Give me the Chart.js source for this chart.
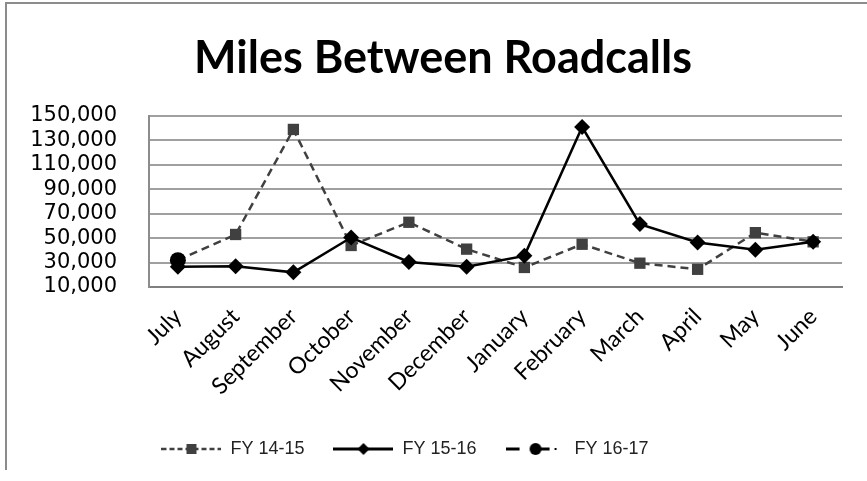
<!DOCTYPE html>
<html>
<head>
<meta charset="utf-8">
<script src="https://cdn.jsdelivr.net/npm/chart.js@4/dist/chart.umd.min.js"></script>
<style>
  html, body { margin: 0; padding: 0; background: #fff; }
  canvas { display: block; }
</style>
</head>
<body>
<canvas id="roadcalls" width="867" height="481"></canvas>
<script>
var months = ['July', 'August', 'September', 'October', 'November', 'December',
              'January', 'February', 'March', 'April', 'May', 'June'];
var fy1415 = [32000, 53000, 139000, 44000, 63000, 41000, 26000, 45000, 29500, 24500, 54500, 47000];
var fy1516 = [26500, 27000, 22000, 50500, 30500, 26500, 35500, 141000, 61500, 46500, 40500, 47000];
var fy1617 = [32000, null, null, null, null, null, null, null, null, null, null, null];
var seriesNames = ['FY 14-15', 'FY 15-16', 'FY 16-17'];
var yMin = 10000, yMax = 150000, yStep = 20000;

// little legend swatches: line + marker like the excel legend
function swatch(kind) {
  var c = document.createElement('canvas');
  c.width = 60; c.height = 16;
  var g = c.getContext('2d');
  var cy = 8;
  if (kind == 0) {
    g.strokeStyle = '#404040'; g.lineWidth = 2.5;
    g.setLineDash([5, 3]);
    g.beginPath(); g.moveTo(0, cy); g.lineTo(60, cy); g.stroke();
    g.fillStyle = '#404040';
    g.fillRect(25, cy - 5, 10, 10);
  } else if (kind == 1) {
    g.strokeStyle = '#000'; g.lineWidth = 3;
    g.beginPath(); g.moveTo(0, cy); g.lineTo(60, cy); g.stroke();
    g.fillStyle = '#000';
    g.beginPath(); g.moveTo(30, cy - 6); g.lineTo(36, cy); g.lineTo(30, cy + 6); g.lineTo(24, cy); g.closePath(); g.fill();
  } else {
    g.strokeStyle = '#000'; g.lineWidth = 3;
    g.beginPath(); g.moveTo(0, cy); g.lineTo(14, cy); g.stroke();
    g.beginPath(); g.moveTo(30, cy); g.lineTo(44, cy); g.stroke();
    g.fillStyle = '#000';
    g.beginPath(); g.arc(30, cy, 6, 0, Math.PI * 2); g.fill();
    g.fillRect(49, cy - 1, 2, 2);
  }
  return c;
}
var swatches = [swatch(0), swatch(1), swatch(2)];

var frame = {
  id: 'frame',
  afterLayout: function(chart) {
    // excel puts the legend a bit left and the title a bit right of centre
    chart.legend.right -= 52;
    chart.titleBlock.left += 24;
  },
  beforeDraw: function(chart) {
    var ctx = chart.ctx;
    ctx.save();
    ctx.strokeStyle = '#8c8c8c';
    ctx.lineWidth = 2;
    ctx.beginPath();
    ctx.moveTo(6, 470); ctx.lineTo(6, 3); ctx.lineTo(867, 3);
    ctx.stroke();
    ctx.restore();
  }
};

var chart = new Chart(document.getElementById('roadcalls'), {
  type: 'line',
  data: {
    labels: months,
    datasets: [
      {
        label: seriesNames[0], data: fy1415, order: 2,
        borderColor: '#404040', borderWidth: 2.5, borderDash: [8, 5],
        pointStyle: 'rect', pointRadius: 8, pointBorderWidth: 0,
        pointBackgroundColor: '#404040', tension: 0
      },
      {
        label: seriesNames[1], data: fy1516, order: 1,
        borderColor: '#000', borderWidth: 2.5,
        pointStyle: 'rectRot', pointRadius: 8, pointBorderWidth: 0,
        pointBackgroundColor: '#000', tension: 0
      },
      {
        label: seriesNames[2], data: fy1617, order: 0,
        borderColor: '#000', borderWidth: 2.5,
        pointStyle: 'circle', pointRadius: 8, pointBorderWidth: 0,
        pointBackgroundColor: '#000', tension: 0
      }
    ]
  },
  options: {
    responsive: false,
    animation: false,
    devicePixelRatio: 1,
    layout: { padding: { left: 20, right: 25, top: 0, bottom: 13 } },
    plugins: {
      title: {
        display: true,
        text: 'Miles Between Roadcalls',
        color: '#000',
        font: { family: 'Lato', size: 45, weight: 'bold' },
        padding: { top: 31, bottom: 31 }
      },
      legend: {
        position: 'bottom',
        labels: {
          usePointStyle: true,
          pointStyleWidth: 60,
          padding: 29,
          color: '#222',
          font: { family: 'Liberation Sans', size: 18 },
          generateLabels: function(ch) {
            return seriesNames.map(function(n, i) {
              return { text: n, pointStyle: swatches[i], fillStyle: '#000', strokeStyle: '#000',
                       lineWidth: 0, datasetIndex: i, hidden: false, fontColor: '#222' };
            });
          }
        }
      },
      tooltip: { enabled: false }
    },
    scales: {
      x: {
        offset: true,
        grid: { display: false, drawTicks: false },
        border: { display: true, color: '#808080', width: 2 },
        ticks: {
          minRotation: 45, maxRotation: 45, autoSkip: false, padding: 16,
          color: '#000', font: { family: 'Lato', size: 23 }
        },
        afterFit: function(s) { s.height = 124; }
      },
      y: {
        min: yMin, max: yMax,
        grid: { color: '#a0a0a0', lineWidth: 2, drawTicks: false },
        border: { display: true, color: '#8c8c8c', width: 2 },
        ticks: {
          stepSize: yStep, autoSkip: false, padding: 32, color: '#000',
          font: { family: 'DejaVu Sans', size: 21 },
          callback: function(v) { return v.toLocaleString('en-US'); }
        },
        afterFit: function(s) { s.width = 129; }
      }
    }
  },
  plugins: [frame]
});
</script>
</body>
</html>
